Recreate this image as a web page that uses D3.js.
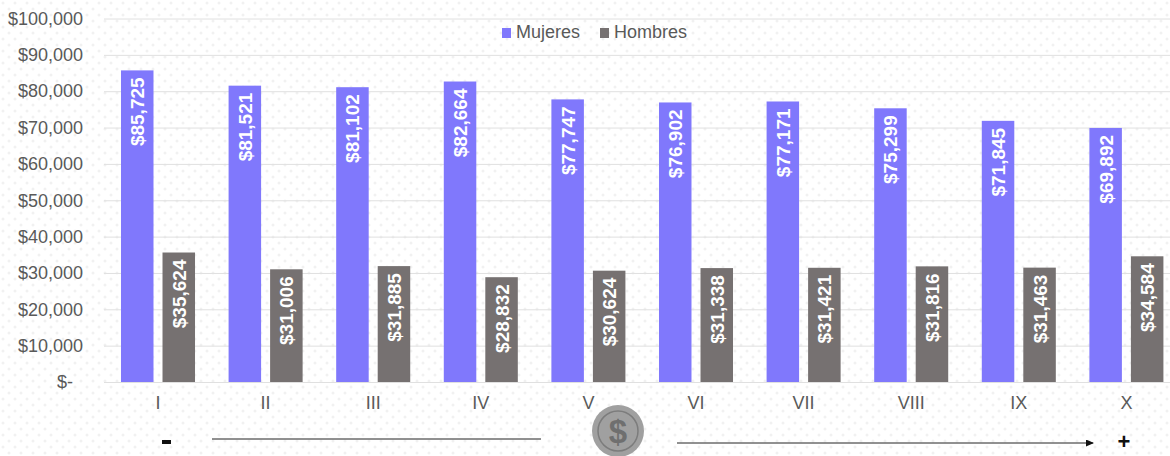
<!DOCTYPE html>
<html>
<head>
<meta charset="utf-8">
<script src="https://cdnjs.cloudflare.com/ajax/libs/d3/7.8.5/d3.min.js"></script>
<style>
html, body { margin: 0; padding: 0; background: #fff; overflow: hidden; }
text { font-family: "Liberation Sans", Arial, sans-serif; }
</style>
</head>
<body>
<div id="chart"></div>
<script>
// data
var categories = ["I", "II", "III", "IV", "V", "VI", "VII", "VIII", "IX", "X"];
var seriesNames = ["Mujeres", "Hombres"];
var mujeres = [85725, 81521, 81102, 82664, 77747, 76902, 77171, 75299, 71845, 69892];
var hombres = [35624, 31006, 31885, 28832, 30624, 31338, 31421, 31816, 31463, 34584];
var yTicks = [0, 10000, 20000, 30000, 40000, 50000, 60000, 70000, 80000, 90000, 100000];

var svgWidth = 1170;
var svgHeight = 456;
var colors = { Mujeres: "#8078fc", Hombres: "#767171" };
var values = { Mujeres: mujeres, Hombres: hombres };

var svg = d3.select("#chart")
    .append("svg")
    .attr("width", svgWidth)
    .attr("height", svgHeight)
    .style("display", "block");

// dotted paper background
var defs = svg.append("defs");
var dots = defs.append("pattern")
    .attr("id", "dots")
    .attr("width", 12)
    .attr("height", 12)
    .attr("patternUnits", "userSpaceOnUse");
dots.append("circle").attr("cx", 3).attr("cy", 3).attr("r", 1.5).attr("fill", "#f1f1f1");
dots.append("circle").attr("cx", 9).attr("cy", 9).attr("r", 1.5).attr("fill", "#f1f1f1");
svg.append("rect").attr("width", svgWidth).attr("height", svgHeight).attr("fill", "url(#dots)");

// scales
var x0 = d3.scaleBand()
    .domain(categories)
    .range([104.2, 1180.2])
    .paddingInner(0.312)
    .paddingOuter(0.156);
var x1 = d3.scaleBand()
    .domain(seriesNames)
    .range([0, x0.bandwidth()])
    .paddingInner(0.217);
var y = d3.scaleLinear()
    .domain([0, 100000])
    .range([382, 18.5]);

// y axis with gridlines
var fmt = d3.format(",");
var yAxis = d3.axisLeft(y)
    .tickValues(yTicks)
    .tickSize(-(svgWidth - 104))
    .tickFormat(function(d) { return d === 0 ? "$-" : "$" + fmt(d); });
var yG = svg.append("g")
    .attr("transform", "translate(104,0)")
    .call(yAxis);
yG.select(".domain").remove();
yG.selectAll(".tick line")
    .attr("stroke", "#e0e0e0")
    .attr("stroke-width", 1);
yG.selectAll(".tick text")
    .attr("x", function(d) { return d === 0 ? -31 : -21; }) // "$-" sits further in, accounting style
    .attr("fill", "#595959")
    .style("font-size", "18px");

// bars
var groups = svg.selectAll(".cat")
    .data(categories)
    .enter()
    .append("g")
    .attr("class", "cat")
    .attr("transform", function(d) { return "translate(" + x0(d) + ",0)"; });

seriesNames.forEach(function(name) {
    groups.append("rect")
        .attr("x", x1(name))
        .attr("y", function(d, i) { return y(values[name][i]); })
        .attr("width", x1.bandwidth())
        .attr("height", function(d, i) { return y(0) - y(values[name][i]); })
        .attr("fill", colors[name]);

    // value labels, rotated, placed at the inside end of the bar
    groups.append("text")
        .attr("transform", function(d, i) {
            return "translate(" + (x1(name) + x1.bandwidth() / 2 + 7) + "," + (y(values[name][i]) + 7) + ") rotate(-90)";
        })
        .attr("text-anchor", "end")
        .attr("fill", "#fff")
        .style("font-size", "19px")
        .style("font-weight", "bold")
        .text(function(d, i) { return "$" + fmt(values[name][i]); });
});

// x labels
svg.append("g").selectAll("text")
    .data(categories)
    .enter()
    .append("text")
    .attr("x", function(d) { return x0(d) + x0.bandwidth() / 2; })
    .attr("y", 409)
    .attr("text-anchor", "middle")
    .attr("fill", "#595959")
    .style("font-size", "18px")
    .text(function(d) { return d; });

// legend
var legend = svg.append("g");
var legendX = { Mujeres: 502, Hombres: 600 };
seriesNames.forEach(function(name) {
    legend.append("rect")
        .attr("x", legendX[name])
        .attr("y", 28)
        .attr("width", 9)
        .attr("height", 10)
        .attr("fill", colors[name]);
    legend.append("text")
        .attr("x", legendX[name] + 14)
        .attr("y", 38)
        .attr("fill", "#595959")
        .style("font-size", "18px")
        .text(name);
});

// bottom arrow strip
defs.append("marker")
    .attr("id", "arrow")
    .attr("markerWidth", 8)
    .attr("markerHeight", 8)
    .attr("refX", 7)
    .attr("refY", 3.5)
    .attr("orient", "auto")
    .attr("markerUnits", "userSpaceOnUse")
    .append("path")
    .attr("d", "M0,0 L8,3.5 L0,7 Z")
    .attr("fill", "#111");

svg.append("line")
    .attr("x1", 212).attr("x2", 541).attr("y1", 439).attr("y2", 439)
    .attr("stroke", "#222").attr("stroke-width", 1);
svg.append("line")
    .attr("x1", 677).attr("x2", 1093).attr("y1", 443).attr("y2", 443)
    .attr("stroke", "#222").attr("stroke-width", 1)
    .attr("marker-end", "url(#arrow)");

svg.append("rect")
    .attr("x", 162).attr("y", 440).attr("width", 9).attr("height", 4)
    .attr("fill", "#111");
svg.append("text")
    .attr("x", 1124).attr("y", 449)
    .attr("text-anchor", "middle")
    .attr("fill", "#111")
    .style("font-size", "22px")
    .style("font-weight", "bold")
    .text("+");

// coin
var coin = svg.append("g").attr("transform", "translate(618,431)");
coin.append("circle").attr("r", 26).attr("fill", "#a0a0a0");
coin.append("circle").attr("r", 20).attr("fill", "none").attr("stroke", "#7c7c7c").attr("stroke-width", 1.5);
coin.append("text")
    .attr("y", 12)
    .attr("text-anchor", "middle")
    .attr("fill", "#6f6f6f")
    .style("font-size", "33px")
    .style("font-weight", "bold")
    .text("$");
</script>
</body>
</html>
